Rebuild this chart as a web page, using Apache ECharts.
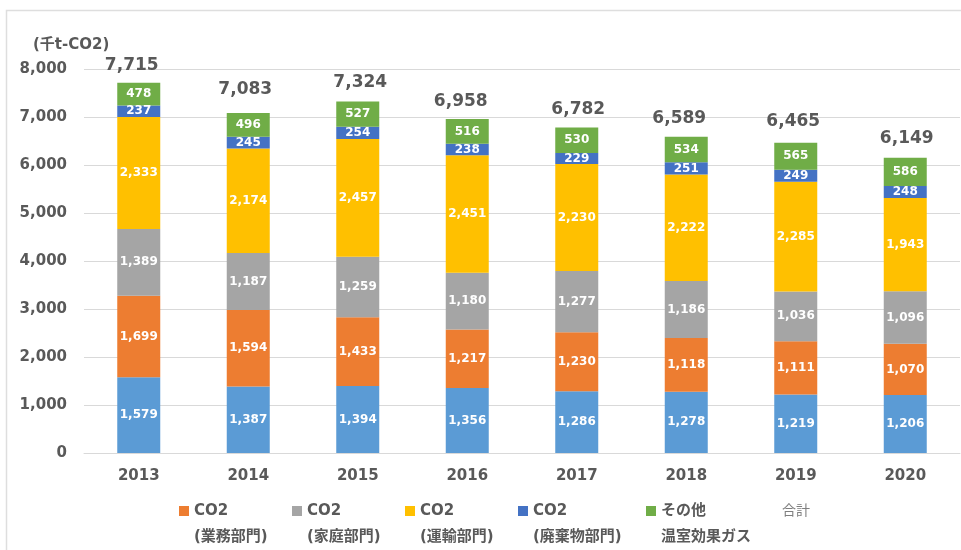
<!DOCTYPE html>
<html>
<head>
<meta charset="utf-8">
<script src="https://cdn.jsdelivr.net/npm/echarts@6/dist/echarts.min.js"></script>
<style>
  html, body { margin: 0; padding: 0; background: #fff; }
  #chart { width: 961px; height: 550px; }
</style>
</head>
<body>
<div id="chart"></div>
<script>
// values in 千t-CO2
const years = ['2013', '2014', '2015', '2016', '2017', '2018', '2019', '2020']
const sangyo = [1579, 1387, 1394, 1356, 1286, 1278, 1219, 1206]
const gyomu = [1699, 1594, 1433, 1217, 1230, 1118, 1111, 1070]
const katei = [1389, 1187, 1259, 1180, 1277, 1186, 1036, 1096]
const unyu = [2333, 2174, 2457, 2451, 2230, 2222, 2285, 1943]
const haikibutsu = [237, 245, 254, 238, 229, 251, 249, 248]
const sonota = [478, 496, 527, 516, 530, 534, 565, 586]
const totals = [7715, 7083, 7324, 6958, 6782, 6589, 6465, 6149]
const yTicks = [0, 1000, 2000, 3000, 4000, 5000, 6000, 7000, 8000]

const FONT = '"DejaVu Sans", "Noto Sans CJK JP", sans-serif'
const GREY = '#595959'
const fmt = v => Number(v).toLocaleString('en-US')

const chart = echarts.init(document.getElementById('chart'))

// square on the first text line; tiny dot stretches the icon box downward
const icon = 'path://M0,0H10V10H0Z M0,35.9H0.1V36H0Z'

const stackSeries = [
  { name: 'CO2\n(産業部門)', data: sangyo, color: '#5B9BD5' },
  { name: 'CO2\n(業務部門)', data: gyomu, color: '#ED7D31' },
  { name: 'CO2\n(家庭部門)', data: katei, color: '#A5A5A5' },
  { name: 'CO2\n(運輸部門)', data: unyu, color: '#FFC000' },
  { name: 'CO2\n(廃棄物部門)', data: haikibutsu, color: '#4472C4' },
  { name: 'その他\n温室効果ガス', data: sonota, color: '#70AD47' }
].map(s => ({
  name: s.name, type: 'bar', stack: 'total', data: s.data, barWidth: 43,
  itemStyle: { color: s.color },
  label: { show: true, position: 'inside', color: '#fff', fontFamily: FONT, fontWeight: 'bold', fontSize: 12,
    formatter: p => fmt(p.value) }
}))

const legendWidths = [98, 98, 98, 113, 106, 60]
const legendNames = ['CO2\n(業務部門)', 'CO2\n(家庭部門)', 'CO2\n(運輸部門)', 'CO2\n(廃棄物部門)', 'その他\n温室効果ガス', '合計']

// total labels were nudged by hand in the original sheet
const totalNudge = [[-7, 8.7], [-3, 15], [2.5, 10.4], [-6.5, 9], [1.5, 9.5], [-7, 9.7], [-2.5, 12.7], [1.5, 10.8]]

chart.setOption({
  animation: false,
  backgroundColor: '#fff',
  textStyle: { fontFamily: FONT },
  graphic: [
    { type: 'rect', shape: { x: 6.5, y: 10.5, width: 980, height: 560 }, style: { fill: 'none', stroke: '#DEDEDE', lineWidth: 1.5 } },
    { type: 'text', left: 33, top: 38, style: { text: '(千t-CO2)', fill: GREY, font: 'bold 15px ' + FONT } }
  ],
  legend: {
    left: 179, top: 498, padding: 0, itemGap: 0, itemWidth: 10, itemHeight: 36, icon: icon,
    selectedMode: false,
    textStyle: { color: GREY, fontWeight: 'bold', fontSize: 15, lineHeight: 26, fontFamily: FONT },
    formatter: name => name.indexOf('\n') < 0 ? name + '\n ' : name,
    data: legendNames.map((n, i) => ({
      name: n,
      textStyle: i === 5 ? { width: legendWidths[i], fontWeight: 'normal', fontSize: 14, color: '#7F7F7F' } : { width: legendWidths[i] }
    }))
  },
  grid: { left: 84, right: 1, top: 69, bottom: 97 },
  xAxis: {
    type: 'category', data: years,
    axisLine: { lineStyle: { color: '#D9D9D9' } },
    axisTick: { show: false },
    axisLabel: { color: GREY, fontWeight: 'bold', fontSize: 15, margin: 16, fontFamily: FONT }
  },
  yAxis: {
    type: 'value', min: yTicks[0], max: yTicks[yTicks.length - 1], interval: 1000,
    axisLine: { show: false }, axisTick: { show: false },
    axisLabel: { color: GREY, fontWeight: 'bold', fontSize: 15, margin: 17, fontFamily: FONT, formatter: v => fmt(v) },
    splitLine: { lineStyle: { color: '#D9D9D9' } }
  },
  series: [
    ...stackSeries,
    {
      name: '合計', type: 'bar', barGap: '-100%', barWidth: 43, z: 1,
      data: totals.map((v, i) => ({
        value: v,
        label: { distance: totalNudge[i][1], offset: [totalNudge[i][0], 0] }
      })),
      itemStyle: { color: 'rgba(0,0,0,0)' },
      label: { show: true, position: 'top', color: GREY, fontWeight: 'bold', fontSize: 17, fontFamily: FONT,
        formatter: p => fmt(p.value) }
    }
  ]
})

window.addEventListener('resize', () => chart.resize())
</script>
</body>
</html>
